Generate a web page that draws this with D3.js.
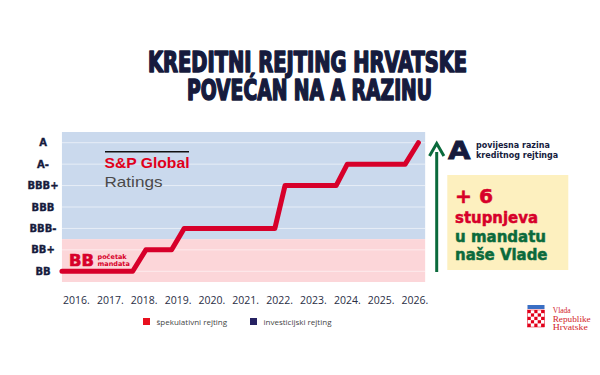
<!DOCTYPE html>
<html><head><meta charset="utf-8">
<script src="https://cdn.jsdelivr.net/npm/d3@7"></script>
<style>
html,body{margin:0;padding:0;background:#fff;}
svg{display:block;}
</style>
</head><body>
<div id="chart"></div>
<script>
// ---- data ----
const ratings = ["A","A-","BBB+","BBB","BBB-","BB+","BB"];
const years = [2016,2017,2018,2019,2020,2021,2022,2023,2024,2025,2026];
const yearLabels = ["2016.","2017.","2018.","2019.","2020.","2021.","2022.","2023.","2024.","2025.","2026."];
const pathDates = [2015.57,2017.66,2018.05,2018.81,2019.18,2021.86,2022.16,2023.67,2024.0,2025.71,2026.1];
const pathRatings = ["BB","BB","BB+","BB+","BBB-","BBB-","BBB+","BBB+","A-","A-","A"];
const speculative = ["BB+","BB"];
const legendLabels = ["špekulativni rejting","investicijski rejting"];
const titleLines = ["KREDITNI REJTING HRVATSKE","POVEĆAN NA A RAZINU"];
const boxLines = ["+ 6","stupnjeva","u mandatu","naše Vlade"];

const W=600,H=375;
const navy="#161b3d", red="#d7002a", green="#0b6a3c";
const svg=d3.select("#chart").append("svg").attr("width",W).attr("height",H);

// title
const tl=[{t:titleLines[0],x:307.5,y:71.5,len:319},{t:titleLines[1],x:309.5,y:100,len:245}];
svg.selectAll("text.title").data(tl).enter().append("text")
  .attr("x",d=>d.x).attr("y",d=>d.y).attr("text-anchor","middle")
  .attr("textLength",d=>d.len).attr("lengthAdjust","spacingAndGlyphs")
  .style("font-family","'DejaVu Sans Condensed','DejaVu Sans',sans-serif")
  .style("font-weight","bold").style("font-size","27.5px").attr("fill",navy)
  .attr("stroke",navy).attr("stroke-width",1.6).attr("stroke-linejoin","round")
  .text(d=>d.t);

// scales
const x=d3.scaleLinear().domain([2016,2026]).range([76.5,415]);
const xMin=2015.57,xMax=2026.3;
const y=d3.scaleBand().domain(ratings).range([132,282]);
const yc=r=>y(r)+y.bandwidth()/2;

// bands
const specTop=y(speculative[0]);
svg.append("rect").attr("x",x(xMin)).attr("y",132).attr("width",x(xMax)-x(xMin)).attr("height",specTop-132).attr("fill","#cad9ed");
svg.append("rect").attr("x",x(xMin)).attr("y",specTop).attr("width",x(xMax)-x(xMin)).attr("height",282-specTop).attr("fill","#fcd6d9");

// gridlines
svg.selectAll("line.grid").data(ratings).enter().append("line")
  .attr("x1",x(xMin)).attr("x2",x(xMax)).attr("y1",d=>yc(d)).attr("y2",d=>yc(d))
  .attr("stroke","#ffffff").attr("stroke-opacity",0.55).attr("stroke-width",1);

// y labels
svg.selectAll("text.ylab").data(ratings).enter().append("text")
  .attr("x",43).attr("y",d=>yc(d)+3.6).attr("text-anchor","middle")
  .style("font-family","'DejaVu Sans',sans-serif").style("font-weight","bold").style("font-size","10px")
  .attr("fill",navy).attr("stroke",navy).attr("stroke-width",0.35).text(d=>d);

// x labels
svg.selectAll("text.xlab").data(years).enter().append("text")
  .attr("x",d=>x(d)).attr("y",303.5).attr("text-anchor","middle")
  .style("font-family","'Open Sans',sans-serif").style("font-size","10.5px").attr("fill","#2a2e45")
  .text((d,i)=>yearLabels[i]);

// S&P logo
svg.append("line").attr("x1",105).attr("x2",189).attr("y1",151.8).attr("y2",151.8).attr("stroke","#111").attr("stroke-width",1.4);
svg.append("text").attr("x",104.5).attr("y",168.3).style("font-family","'Liberation Sans',Arial,sans-serif").style("font-weight","bold").style("font-size","14.6px").attr("fill","#e0001b").attr("textLength",85).attr("lengthAdjust","spacingAndGlyphs").text("S&P Global");
svg.append("text").attr("x",104.5).attr("y",186.5).style("font-family","'Liberation Sans',Arial,sans-serif").style("font-size","14.6px").attr("fill","#4a4a4a").attr("textLength",58).attr("lengthAdjust","spacingAndGlyphs").text("Ratings");

// line
const pts=pathDates.map((d,i)=>[x(d),yc(pathRatings[i])]);
svg.append("path").attr("d",d3.line()(pts)).attr("fill","none").attr("stroke",red)
  .attr("stroke-width",5).attr("stroke-linejoin","round").attr("stroke-linecap","round");

// BB start annotation
svg.append("text").attr("x",69).attr("y",266.3).style("font-family","'DejaVu Sans',sans-serif").style("font-weight","bold").style("font-size","15px").attr("fill",red).attr("stroke",red).attr("stroke-width",0.6).attr("textLength",25).attr("lengthAdjust","spacingAndGlyphs").text(pathRatings[0]);
svg.append("text").attr("x",97.5).attr("y",258.5).style("font-family","'DejaVu Sans',sans-serif").style("font-weight","bold").style("font-size","6.5px").attr("fill",red).text("početak");
svg.append("text").attr("x",97.5).attr("y",266).style("font-family","'DejaVu Sans',sans-serif").style("font-weight","bold").style("font-size","6.5px").attr("fill",red).text("mandata");

// green arrow
svg.append("line").attr("x1",436.7).attr("x2",436.7).attr("y1",152).attr("y2",272).attr("stroke",green).attr("stroke-width",3);
svg.append("path").attr("d","M429.5,156 L436.7,143.5 L443.9,156").attr("fill","none").attr("stroke",green).attr("stroke-width",3).attr("stroke-linejoin","miter");

// A annotation
svg.append("text").attr("x",448).attr("y",159.3).style("font-family","'DejaVu Sans',sans-serif").style("font-weight","900").style("font-size","24px").attr("fill",navy).attr("stroke",navy).attr("stroke-width",0.8).attr("textLength",22.5).attr("lengthAdjust","spacingAndGlyphs").text(ratings[0]);
svg.append("text").attr("x",476).attr("y",148.3).style("font-family","'DejaVu Sans',sans-serif").style("font-weight","bold").style("font-size","8px").attr("fill",navy).text("povijesna razina");
svg.append("text").attr("x",476).attr("y",157.5).style("font-family","'DejaVu Sans',sans-serif").style("font-weight","bold").style("font-size","8px").attr("fill",navy).text("kreditnog rejtinga");

// yellow box
svg.append("rect").attr("x",447.3).attr("y",175).attr("width",121).attr("height",95).attr("fill","#fdf0bf");
const bl=[{t:boxLines[0],y:202.7,s:20,c:red,len:38},{t:boxLines[1],y:222.8,s:15.5,c:red,len:83},{t:boxLines[2],y:242,s:15.5,c:green,len:91},{t:boxLines[3],y:260,s:15.5,c:green,len:92.5}];
svg.selectAll("text.box").data(bl).enter().append("text")
  .attr("x",455).attr("y",d=>d.y).style("font-family","'DejaVu Sans',sans-serif").style("font-weight","bold")
  .style("font-size",d=>d.s+"px").attr("fill",d=>d.c).attr("stroke",d=>d.c).attr("stroke-width",0.5)
  .attr("textLength",d=>d.len).attr("lengthAdjust","spacingAndGlyphs").text(d=>d.t);

// legend
const lg=svg.append("g");
const lgd=[{t:legendLabels[0],c:"#e8101e",x:143},{t:legendLabels[1],c:"#262262",x:250}];
lg.selectAll("rect").data(lgd).enter().append("rect").attr("x",d=>d.x).attr("y",318).attr("width",7).attr("height",7).attr("fill",d=>d.c);
lg.selectAll("text").data(lgd).enter().append("text").attr("x",d=>d.x+13.5).attr("y",324.5)
  .style("font-family","'Open Sans',sans-serif").style("font-size","8px").attr("fill","#444").text(d=>d.t);

// government logo
const logo=svg.append("g").attr("transform","translate(527,305)");
logo.append("rect").attr("x",0.5).attr("y",0).attr("width",17).attr("height",4).attr("fill","#3a6fc4");
const sz=3.4;
for(let r=0;r<5;r++)for(let c=0;c<5;c++){
  logo.append("rect").attr("x",0.5+c*sz).attr("y",5+r*sz).attr("width",sz).attr("height",sz)
    .attr("fill",(r+c)%2===0?"#e2001a":"#ffffff");
}
logo.append("rect").attr("x",0.5).attr("y",5).attr("width",17).attr("height",17).attr("fill","none").attr("stroke","#e2001a").attr("stroke-width",0.5);
const gl=["Vlada","Republike","Hrvatske"];
logo.selectAll("text").data(gl).enter().append("text").attr("x",25.7).attr("y",(d,i)=>8.3+i*8.3)
  .style("font-family","'Liberation Serif','DejaVu Serif',serif").style("font-size","7.3px").attr("fill","#d2232a")
  .attr("textLength",(d,i)=>[18,38,35][i]).attr("lengthAdjust","spacingAndGlyphs").text(d=>d);
</script>
</body></html>
